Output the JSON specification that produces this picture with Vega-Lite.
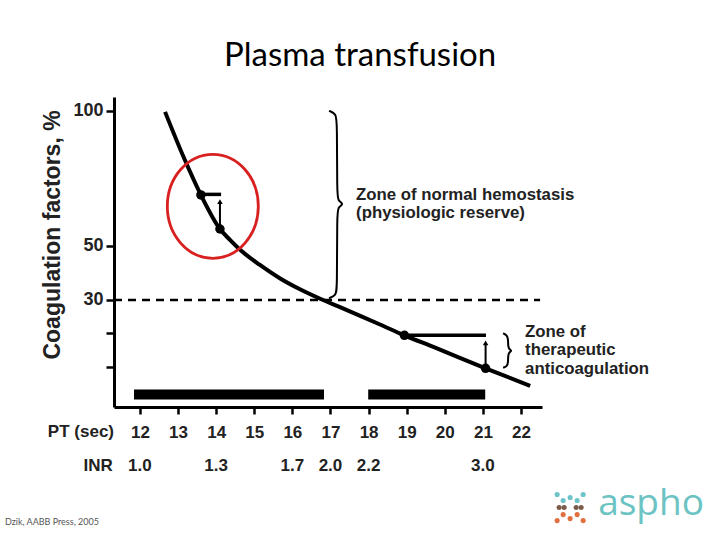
{
  "$schema": "https://vega.github.io/schema/vega-lite/v6.json",
  "autosize": "none",
  "width": 428,
  "height": 310,
  "padding": {"left": 114, "top": 97, "right": 178, "bottom": 133},
  "background": "white",
  "config": {"view": {"stroke": null}},
  "datasets": {
    "curve": [
      {"pt": 12.66, "v": 99.5}, {"pt": 13.14, "v": 83.0}, {"pt": 13.60, "v": 68.8},
      {"pt": 14.10, "v": 56.2}, {"pt": 14.37, "v": 52.1}, {"pt": 14.63, "v": 48.5},
      {"pt": 15.15, "v": 42.9}, {"pt": 15.68, "v": 37.9}, {"pt": 16.20, "v": 33.9},
      {"pt": 16.73, "v": 30.4}, {"pt": 17.25, "v": 27.3}, {"pt": 17.78, "v": 24.1},
      {"pt": 18.30, "v": 20.9}, {"pt": 18.94, "v": 16.9}, {"pt": 19.70, "v": 12.6},
      {"pt": 21.07, "v": 4.7}, {"pt": 22.24, "v": -1.8}
    ],
    "threshold": [{"x1": 11.32, "x2": 22.5, "v": 30}],
    "bars": [{"x1": 11.845, "x2": 16.83, "v": -5.0}, {"x1": 17.99, "x2": 21.06, "v": -5.0}],
    "dashes": [{"x1": 13.60, "x2": 14.13, "v": 69.0}, {"x1": 18.94, "x2": 21.08, "v": 16.9}],
    "shafts": [{"pt": 14.10, "v1": 56.2, "v2": 66.0}, {"pt": 21.07, "v1": 4.7, "v2": 14.0}],
    "heads": [{"pt": 14.10, "v": 66.3}, {"pt": 21.07, "v": 14.1}],
    "dots": [{"pt": 13.60, "v": 68.8}, {"pt": 14.10, "v": 56.2}, {"pt": 18.94, "v": 16.9}, {"pt": 21.07, "v": 4.7}],
    "braces": [
      {"b": "big", "o": 1, "pt": 16.963, "v": 99.9}, {"b": "big", "o": 2, "pt": 17.147, "v": 98.8},
      {"b": "big", "o": 3, "pt": 17.173, "v": 95.8}, {"b": "big", "o": 4, "pt": 17.173, "v": 68.8},
      {"b": "big", "o": 5, "pt": 17.199, "v": 66.6}, {"b": "big", "o": 6, "pt": 17.357, "v": 65.4},
      {"b": "big", "o": 7, "pt": 17.199, "v": 64.3}, {"b": "big", "o": 8, "pt": 17.173, "v": 62.1},
      {"b": "big", "o": 9, "pt": 17.173, "v": 34.3}, {"b": "big", "o": 10, "pt": 17.147, "v": 31.7},
      {"b": "big", "o": 11, "pt": 16.963, "v": 30.6},
      {"b": "small", "o": 1, "pt": 21.530, "v": 17.67}, {"b": "small", "o": 2, "pt": 21.635, "v": 16.93},
      {"b": "small", "o": 3, "pt": 21.661, "v": 15.44}, {"b": "small", "o": 4, "pt": 21.661, "v": 12.85},
      {"b": "small", "o": 5, "pt": 21.687, "v": 11.74}, {"b": "small", "o": 6, "pt": 21.766, "v": 11.19},
      {"b": "small", "o": 7, "pt": 21.687, "v": 10.63}, {"b": "small", "o": 8, "pt": 21.661, "v": 9.52},
      {"b": "small", "o": 9, "pt": 21.661, "v": 6.93}, {"b": "small", "o": 10, "pt": 21.635, "v": 5.44},
      {"b": "small", "o": 11, "pt": 21.530, "v": 4.89}
    ],
    "ellipse": [{"pt": 13.913, "v": 64.6}],
    "notes": [
      {"pt": 17.672, "v": 68.8, "t": "Zone of normal hemostasis"},
      {"pt": 17.672, "v": 62.0, "t": "(physiologic reserve)"},
      {"pt": 22.107, "v": 18.2, "t": "Zone of"},
      {"pt": 22.107, "v": 11.4, "t": "therapeutic"},
      {"pt": 22.107, "v": 4.6, "t": "anticoagulation"}
    ],
    "rowtitles": [
      {"pt": 11.32, "v": -20.7, "t": "PT (sec)"},
      {"pt": 11.29, "v": -33.1, "t": "INR"}
    ],
    "inr": [
      {"pt": 12, "v": -33.1, "t": "1.0"}, {"pt": 14, "v": -33.1, "t": "1.3"},
      {"pt": 16, "v": -33.1, "t": "1.7"}, {"pt": 17, "v": -33.1, "t": "2.0"},
      {"pt": 18, "v": -33.1, "t": "2.2"}, {"pt": 21, "v": -33.1, "t": "3.0"}
    ],
    "title": [{"pt": 17.777, "v": 116.3, "t": "Plasma transfusion"}],
    "ytitle": [{"pt": 9.72, "v": 54.0, "t": "Coagulation factors, %"}],
    "foot": [{"pt": 8.459, "v": -53.4, "t": "Dzik, AABB Press, 2005"}],
    "brand": [{"pt": 24.023, "v": -49.7, "t": "aspho"}],
    "logo": [
      {"pt": 22.947, "v": -41.96, "g": "teal"}, {"pt": 23.630, "v": -41.96, "g": "teal"},
      {"pt": 23.105, "v": -44.19, "g": "teal"}, {"pt": 23.472, "v": -44.19, "g": "teal"},
      {"pt": 23.288, "v": -43.07, "g": "teal"},
      {"pt": 22.999, "v": -46.78, "g": "brown"}, {"pt": 23.131, "v": -46.78, "g": "brown"},
      {"pt": 23.446, "v": -46.78, "g": "brown"}, {"pt": 23.577, "v": -46.78, "g": "brown"},
      {"pt": 23.105, "v": -49.37, "g": "orange"}, {"pt": 23.472, "v": -49.37, "g": "orange"},
      {"pt": 22.947, "v": -51.59, "g": "orange"}, {"pt": 23.288, "v": -50.85, "g": "orange"},
      {"pt": 23.630, "v": -51.59, "g": "orange"}
    ]
  },
  "layer": [
    {
      "data": {"name": "curve"},
      "mark": {"type": "line", "color": "black", "strokeWidth": 4, "interpolate": "monotone", "clip": false},
      "encoding": {
        "x": {
          "field": "pt", "type": "quantitative",
          "scale": {"domain": [11.32, 22.55], "nice": false, "zero": false},
          "axis": {
            "title": null, "values": [12, 13, 14, 15, 16, 17, 18, 19, 20, 21, 22],
            "grid": false, "domainColor": "black", "domainWidth": 3,
            "tickColor": "black", "tickWidth": 2.5, "tickSize": 7,
            "labelFont": "Liberation Sans", "labelFontWeight": "bold", "labelFontSize": 17,
            "labelColor": "#222", "labelBaseline": "alphabetic", "labelPadding": 23,
            "labelFlush": false, "labelOverlap": false
          }
        },
        "y": {
          "field": "v", "type": "quantitative",
          "scale": {"domain": [-9.6, 105], "nice": false, "zero": false},
          "axis": {
            "title": null, "values": [100, 50, 30, 17.6, 5.3],
            "labelExpr": "datum.value >= 30 ? datum.label : ''",
            "grid": false, "domainColor": "black", "domainWidth": 3,
            "tickColor": "black", "tickWidth": 2.5, "tickSize": 8,
            "labelFont": "Liberation Sans", "labelFontWeight": "bold", "labelFontSize": 18,
            "labelColor": "#222", "labelPadding": 3, "labelOverlap": false
          }
        }
      }
    },
    {
      "data": {"name": "threshold"},
      "mark": {"type": "rule", "color": "black", "strokeWidth": 2.5, "strokeDash": [8, 6]},
      "encoding": {
        "x": {"field": "x1", "type": "quantitative"},
        "x2": {"field": "x2"},
        "y": {"field": "v", "type": "quantitative"}
      }
    },
    {
      "data": {"name": "bars"},
      "mark": {"type": "rule", "color": "black", "strokeWidth": 10},
      "encoding": {
        "x": {"field": "x1", "type": "quantitative"},
        "x2": {"field": "x2"},
        "y": {"field": "v", "type": "quantitative"}
      }
    },
    {
      "data": {"name": "dashes"},
      "mark": {"type": "rule", "color": "black", "strokeWidth": 3.5},
      "encoding": {
        "x": {"field": "x1", "type": "quantitative"},
        "x2": {"field": "x2"},
        "y": {"field": "v", "type": "quantitative"}
      }
    },
    {
      "data": {"name": "shafts"},
      "mark": {"type": "rule", "color": "black", "strokeWidth": 2},
      "encoding": {
        "x": {"field": "pt", "type": "quantitative"},
        "y": {"field": "v1", "type": "quantitative"},
        "y2": {"field": "v2"}
      }
    },
    {
      "data": {"name": "heads"},
      "mark": {"type": "point", "shape": "triangle-up", "filled": true, "color": "black", "size": 30, "opacity": 1},
      "encoding": {
        "x": {"field": "pt", "type": "quantitative"},
        "y": {"field": "v", "type": "quantitative"}
      }
    },
    {
      "data": {"name": "dots"},
      "mark": {"type": "circle", "color": "black", "size": 90, "opacity": 1},
      "encoding": {
        "x": {"field": "pt", "type": "quantitative"},
        "y": {"field": "v", "type": "quantitative"}
      }
    },
    {
      "data": {"name": "braces"},
      "mark": {"type": "line", "color": "black", "strokeWidth": 2, "interpolate": "basis"},
      "encoding": {
        "x": {"field": "pt", "type": "quantitative"},
        "y": {"field": "v", "type": "quantitative"},
        "detail": {"field": "b"},
        "order": {"field": "o"}
      }
    },
    {
      "data": {"name": "ellipse"},
      "mark": {
        "type": "point",
        "shape": "M -0.875 0 A 0.875 1 0 1 0 0.875 0 A 0.875 1 0 1 0 -0.875 0 Z",
        "size": 10816, "filled": false, "color": "#d92020", "strokeWidth": 2.8, "opacity": 1
      },
      "encoding": {
        "x": {"field": "pt", "type": "quantitative"},
        "y": {"field": "v", "type": "quantitative"}
      }
    },
    {
      "data": {"name": "notes"},
      "mark": {"type": "text", "align": "left", "baseline": "middle", "font": "Liberation Sans", "fontWeight": "bold", "fontSize": 16.8, "color": "#222"},
      "encoding": {
        "x": {"field": "pt", "type": "quantitative"},
        "y": {"field": "v", "type": "quantitative"},
        "text": {"field": "t"}
      }
    },
    {
      "data": {"name": "rowtitles"},
      "mark": {"type": "text", "align": "right", "baseline": "alphabetic", "font": "Liberation Sans", "fontWeight": "bold", "fontSize": 17, "color": "#222"},
      "encoding": {
        "x": {"field": "pt", "type": "quantitative"},
        "y": {"field": "v", "type": "quantitative"},
        "text": {"field": "t"}
      }
    },
    {
      "data": {"name": "inr"},
      "mark": {"type": "text", "align": "center", "baseline": "alphabetic", "font": "Liberation Sans", "fontWeight": "bold", "fontSize": 17, "color": "#222"},
      "encoding": {
        "x": {"field": "pt", "type": "quantitative"},
        "y": {"field": "v", "type": "quantitative"},
        "text": {"field": "t"}
      }
    },
    {
      "data": {"name": "title"},
      "mark": {"type": "text", "align": "center", "baseline": "alphabetic", "font": "Lato", "fontSize": 33, "color": "black"},
      "encoding": {
        "x": {"field": "pt", "type": "quantitative"},
        "y": {"field": "v", "type": "quantitative"},
        "text": {"field": "t"}
      }
    },
    {
      "data": {"name": "ytitle"},
      "mark": {"type": "text", "align": "center", "baseline": "middle", "angle": 270, "font": "Liberation Sans", "fontWeight": "bold", "fontSize": 23, "color": "#222"},
      "encoding": {
        "x": {"field": "pt", "type": "quantitative"},
        "y": {"field": "v", "type": "quantitative"},
        "text": {"field": "t"}
      }
    },
    {
      "data": {"name": "foot"},
      "mark": {"type": "text", "align": "left", "baseline": "alphabetic", "font": "Lato", "fontSize": 9, "color": "#555"},
      "encoding": {
        "x": {"field": "pt", "type": "quantitative"},
        "y": {"field": "v", "type": "quantitative"},
        "text": {"field": "t"}
      }
    },
    {
      "data": {"name": "brand"},
      "mark": {"type": "text", "align": "left", "baseline": "alphabetic", "font": "Open Sans", "fontSize": 37, "color": "#6cc3c3"},
      "encoding": {
        "x": {"field": "pt", "type": "quantitative"},
        "y": {"field": "v", "type": "quantitative"},
        "text": {"field": "t"}
      }
    },
    {
      "data": {"name": "logo"},
      "mark": {"type": "circle", "size": 26, "opacity": 1},
      "encoding": {
        "x": {"field": "pt", "type": "quantitative"},
        "y": {"field": "v", "type": "quantitative"},
        "color": {"field": "g", "type": "nominal", "legend": null,
          "scale": {"domain": ["teal", "brown", "orange"], "range": ["#6cc3c8", "#7a5a48", "#e0703e"]}}
      }
    }
  ]
}
